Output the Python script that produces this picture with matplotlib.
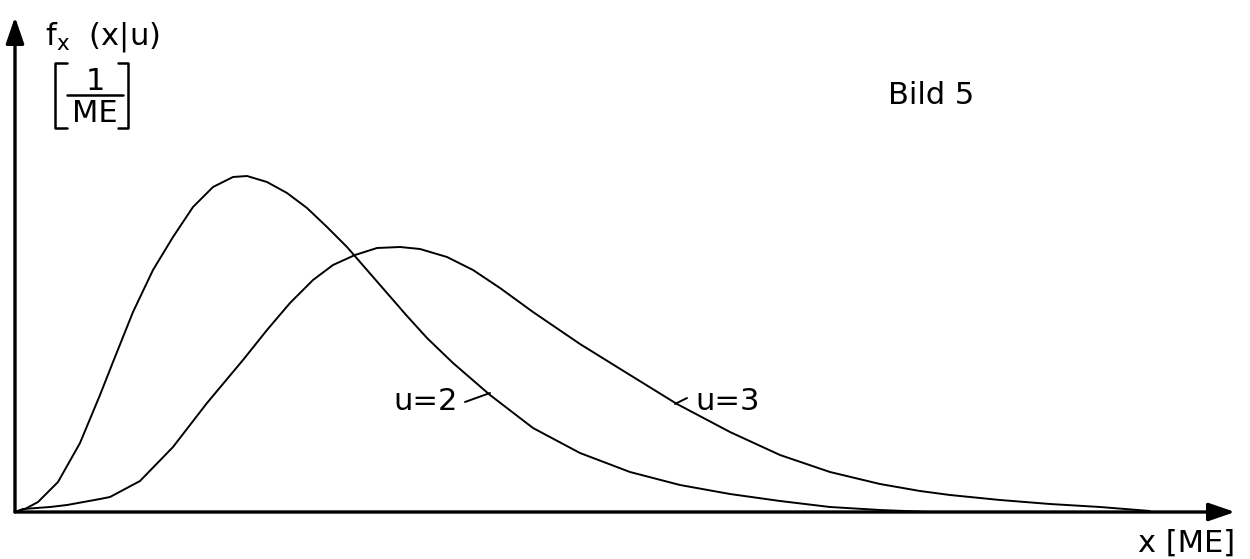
import matplotlib
matplotlib.use("Agg")
import matplotlib.pyplot as plt

plt.rcParams['font.family'] = ['DejaVu Sans']
plt.rcParams['mathtext.fontset'] = 'dejavusans'

# Curve u=2 (x in ME, density in arbitrary units)
x_u2 = [0.0, 0.10, 0.23, 0.43, 0.65, 0.85, 0.98, 1.18, 1.38, 1.58, 1.78, 1.98,
        2.18, 2.32, 2.52, 2.72, 2.92, 3.12, 3.32, 3.52, 3.72, 3.92, 4.12, 4.38,
        4.75, 5.18, 5.65, 6.15, 6.65, 7.15, 7.65, 8.15, 8.65, 9.15]
y_u2 = [0.0, 0.03, 0.10, 0.30, 0.69, 1.17, 1.50, 2.00, 2.42, 2.75, 3.05, 3.25,
        3.35, 3.36, 3.30, 3.19, 3.04, 2.85, 2.65, 2.42, 2.19, 1.96, 1.74, 1.49,
        1.17, 0.84, 0.59, 0.40, 0.27, 0.18, 0.11, 0.05, 0.02, 0.0]

# Curve u=3
x_u3 = [0.0, 0.08, 0.35, 0.52, 0.85, 0.95, 1.25, 1.58, 1.92, 2.28, 2.52, 2.75,
        2.98, 3.18, 3.40, 3.62, 3.85, 4.05, 4.32, 4.58, 4.85, 5.18, 5.65, 6.15,
        6.62, 7.15, 7.65, 8.15, 8.65, 9.05, 9.35, 9.85, 10.35, 10.85, 11.35]
y_u3 = [0.0, 0.03, 0.05, 0.07, 0.13, 0.15, 0.31, 0.65, 1.09, 1.52, 1.82, 2.09,
        2.32, 2.47, 2.57, 2.64, 2.65, 2.63, 2.55, 2.42, 2.24, 2.00, 1.68, 1.37,
        1.08, 0.80, 0.57, 0.40, 0.28, 0.21, 0.17, 0.12, 0.08, 0.05, 0.01]

curve_labels = ["u=2", "u=3"]
title_text = "Bild 5"
ylabel_text = r"$\mathregular{f_x}$  (x|u)"
yunit_num = "1"
yunit_den = "ME"
xlabel_text = "x [ME]"

fig = plt.figure(figsize=(12.5, 5.59), dpi=100)
ax = fig.add_axes([0, 0, 1, 1])
ax.set_xlim(-0.15, 12.35)
ax.set_ylim(-0.47, 5.12)
ax.axis('off')

lk = dict(color='black', solid_capstyle='round', solid_joinstyle='round')
# curves
ax.plot(x_u2, y_u2, lw=1.4, **lk)
ax.plot(x_u3, y_u3, lw=1.4, **lk)

# axes with arrows
arrow_kw = dict(arrowstyle='-|>,head_length=1.6,head_width=0.55', lw=2.4,
                color='black', shrinkA=0, shrinkB=0, mutation_scale=10)
ax.annotate('', xy=(12.2, 0), xytext=(0, 0), arrowprops=arrow_kw)
ax.annotate('', xy=(0, 4.95), xytext=(0, 0), arrowprops=arrow_kw)

fs = 22
ax.text(0.30, 4.67, ylabel_text, fontsize=fs, ha='left', va='baseline')

# unit [1/ME] built from parts
ax.text(0.80, 4.31, yunit_num, fontsize=fs, ha='center', va='center')
ax.text(0.795, 3.99, yunit_den, fontsize=fs, ha='center', va='center')
ax.plot([0.52, 1.08], [4.17, 4.17], lw=1.8, **lk)
ax.plot([0.52, 0.40, 0.40, 0.52], [4.49, 4.49, 3.84, 3.84], lw=1.8, **lk)
ax.plot([1.03, 1.13, 1.13, 1.03], [4.49, 4.49, 3.84, 3.84], lw=1.8, **lk)

ax.text(8.73, 4.17, title_text, fontsize=fs, ha='left', va='center')
ax.text(11.23, -0.31, xlabel_text, fontsize=fs, ha='left', va='center')

# curve labels with leader lines
ax.text(4.43, 1.10, curve_labels[0], fontsize=fs, ha='right', va='center')
ax.plot([4.50, 4.75], [1.10, 1.19], lw=1.4, **lk)
ax.text(6.80, 1.11, curve_labels[1], fontsize=fs, ha='left', va='center')
ax.plot([6.60, 6.72], [1.08, 1.14], lw=1.4, **lk)

fig.savefig('out.png', dpi=100)
